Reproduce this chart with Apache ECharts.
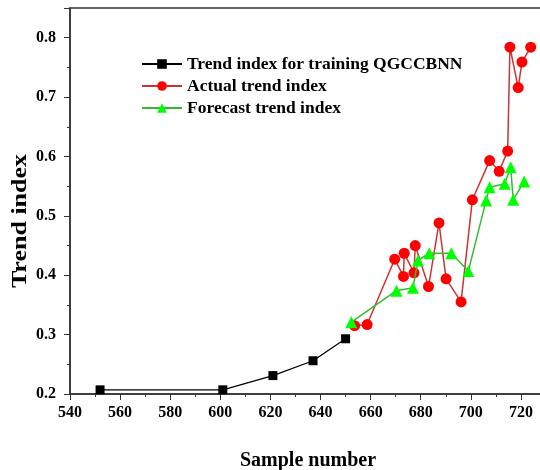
<!DOCTYPE html>
<html>
<head>
<meta charset="utf-8">
<script src="https://cdn.jsdelivr.net/npm/echarts@6/dist/echarts.min.js"></script>
<style>html,body{margin:0;padding:0;background:#fff;}#c{width:540px;height:470px;}</style>
</head>
<body>
<div id="c"></div>
<script>
const seriesNames = ['Trend index for training QGCCBNN', 'Actual trend index', 'Forecast trend index'];
const trainX = [552, 601, 621, 637, 650];
const trainY = [0.207, 0.207, 0.231, 0.256, 0.293];
const actualX = [653.6, 658.6, 669.6, 673.1, 673.4, 677.3, 677.8, 683.1, 687.3, 690.1, 696.1, 700.6, 707.5, 711.3, 714.7, 715.6, 718.9, 720.4, 723.9];
const actualY = [0.315, 0.317, 0.427, 0.398, 0.437, 0.404, 0.450, 0.381, 0.488, 0.394, 0.355, 0.527, 0.593, 0.575, 0.609, 0.784, 0.716, 0.759, 0.784];
const forecastX = [652.3, 670.3, 676.9, 678.9, 683.4, 692.2, 699.0, 706.1, 707.5, 713.5, 715.9, 716.9, 721.3];
const forecastY = [0.321, 0.374, 0.379, 0.425, 0.437, 0.437, 0.407, 0.526, 0.548, 0.554, 0.582, 0.527, 0.558];
const xTicks = [540, 560, 580, 600, 620, 640, 660, 680, 700, 720];
const yTicks = [0.2, 0.3, 0.4, 0.5, 0.6, 0.7, 0.8];

const pairs = (xs, ys) => xs.map((x, i) => [x, ys[i]]);
const serif = 'Liberation Serif';

const chart = echarts.init(document.getElementById('c'), null, {renderer: 'canvas'});
chart.setOption({
  animation: false,
  backgroundColor: '#fff',
  grid: {left: 70, top: 8, width: 476, bottom: 76, containLabel: false, outerBoundsMode: 'none', show: true, borderColor: '#333', borderWidth: 1.5, backgroundColor: 'transparent'},
  legend: {
    orient: 'vertical', left: 141, top: 55, padding: 0, itemWidth: 40, itemHeight: 12, itemGap: 4,
    textStyle: {fontFamily: serif, fontWeight: 'bold', fontSize: 17.5, lineHeight: 18, color: '#000'},
    data: seriesNames
  },
  graphic: [{
    type: 'text', x: 21, y: 221, rotation: Math.PI / 2,
    style: {text: 'Trend index', fontFamily: serif, fontWeight: 'bold', fontSize: 20, fill: '#000', align: 'center', verticalAlign: 'middle'},
    scaleX: 1.3
  }],
  xAxis: {
    type: 'value', min: 540, max: 730, interval: 20,
    name: 'Sample number', nameLocation: 'middle', nameGap: 57,
    nameTextStyle: {fontFamily: serif, fontWeight: 'bold', fontSize: 20, color: '#000'},
    axisLine: {show: true, lineStyle: {color: '#333', width: 1.5}},
    axisTick: {show: true, inside: false, length: 6, lineStyle: {color: '#333'}},
    minorTick: {show: true, splitNumber: 2, length: 3, lineStyle: {color: '#333'}},
    splitLine: {show: false},
    axisLabel: {
      margin: 11, fontFamily: serif, fontWeight: 'bold', fontSize: 16, color: '#000',
      formatter: v => xTicks.indexOf(v) >= 0 ? String(v) : ''
    }
  },
  yAxis: {
    type: 'value', min: 0.2, max: 0.85, interval: 0.1,
    axisLine: {show: true, lineStyle: {color: '#333', width: 1.5}},
    axisTick: {show: true, inside: false, length: 6, lineStyle: {color: '#333'}},
    minorTick: {show: true, splitNumber: 2, length: 3, lineStyle: {color: '#333'}},
    splitLine: {show: false},
    axisLabel: {
      margin: 14, fontFamily: serif, fontWeight: 'bold', fontSize: 16, color: '#000',
      formatter: v => {
        const hit = yTicks.find(t => Math.abs(t - v) < 1e-6);
        return hit !== undefined ? hit.toFixed(1) : '';
      }
    }
  },
  series: [
    {
      name: seriesNames[0], type: 'line', data: pairs(trainX, trainY),
      symbol: 'rect', symbolSize: 9, itemStyle: {color: '#000'},
      lineStyle: {color: '#000', width: 1.2}, z: 2
    },
    {
      name: seriesNames[1], type: 'line', data: pairs(actualX, actualY),
      symbol: 'circle', symbolSize: 11, itemStyle: {color: '#ff0000'},
      lineStyle: {color: '#cc3333', width: 1.5}, z: 3
    },
    {
      name: seriesNames[2], type: 'line', data: pairs(forecastX, forecastY),
      symbol: 'triangle', symbolSize: 12, itemStyle: {color: '#00ff00'},
      lineStyle: {color: '#33bb33', width: 1.5}, z: 4
    }
  ]
});
</script>
</body>
</html>
